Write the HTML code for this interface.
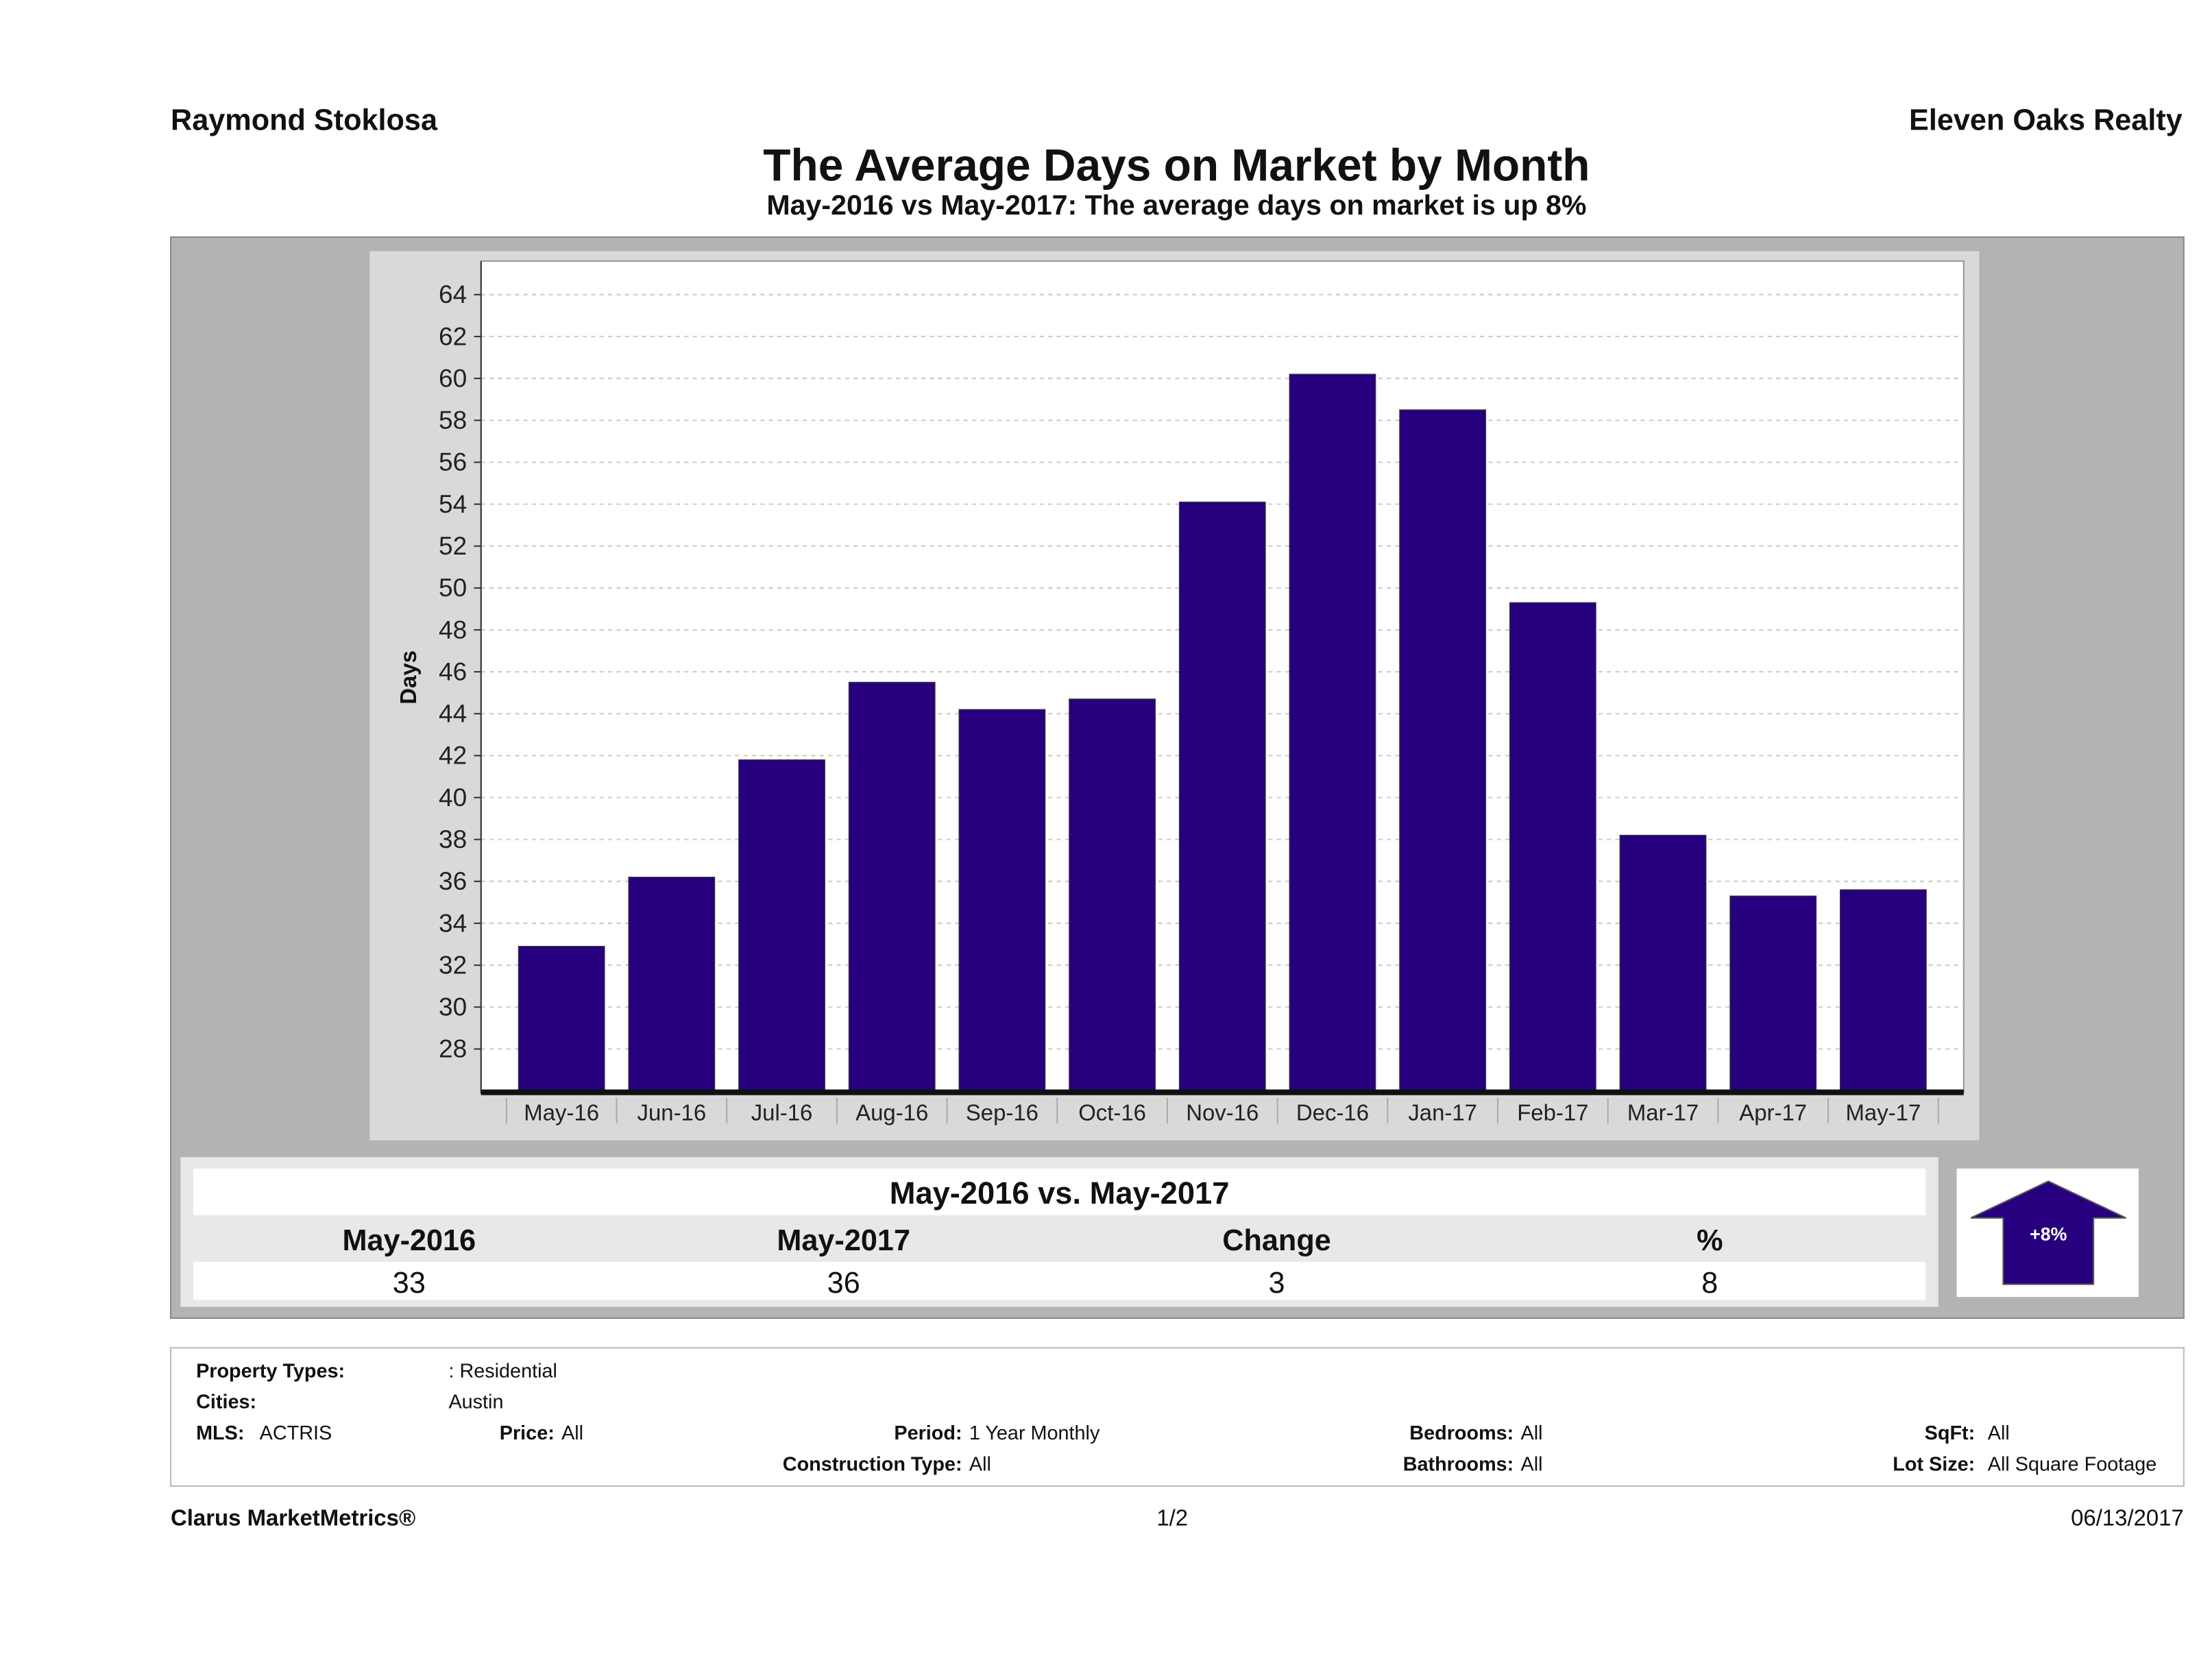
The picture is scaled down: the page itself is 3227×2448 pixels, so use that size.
<!DOCTYPE html>
<html><head><meta charset="utf-8"><style>
html,body{margin:0;padding:0;background:#fff;}
svg{display:block;font-family:"Liberation Sans",sans-serif;}
</style></head><body>
<svg id="c" width="3227" height="2448" viewBox="0 0 1568 1189" preserveAspectRatio="none" xmlns="http://www.w3.org/2000/svg">
<text x="121" y="92" font-size="21" font-weight="bold" fill="#111">Raymond Stoklosa</text>
<text x="1547" y="92" font-size="21" font-weight="bold" fill="#111" text-anchor="end">Eleven Oaks Realty</text>
<text x="834" y="128" font-size="32" font-weight="bold" fill="#111" text-anchor="middle">The Average Days on Market by Month</text>
<text x="834" y="152" font-size="20" font-weight="bold" fill="#111" text-anchor="middle">May-2016 vs May-2017: The average days on market is up 8%</text>
<rect x="121" y="168" width="1427" height="766" fill="#b3b3b3" stroke="#888"/>
<rect x="262" y="178" width="1141" height="630" fill="#d9d9d9"/>
<rect x="341" y="185" width="1051" height="589" fill="#fff" stroke="#999"/>
<g id="grid"></g>
<g id="bars"></g>
<g id="xt"></g>
<text transform="translate(295,480) rotate(-90)" font-size="16" font-weight="bold" text-anchor="middle" fill="#111">Days</text>
<rect x="128" y="820" width="1246" height="106" fill="#e8e8e8"/>
<rect x="137" y="828" width="1228" height="33" fill="#fff"/>
<text x="751" y="853" font-size="22" font-weight="bold" text-anchor="middle" fill="#111">May-2016 vs. May-2017</text>
<g font-size="21" font-weight="bold" text-anchor="middle" fill="#111">
<text x="290" y="886">May-2016</text>
<text x="598" y="886">May-2017</text>
<text x="905" y="886">Change</text>
<text x="1212" y="886">%</text>
</g>
<rect x="137" y="894" width="1228" height="27" fill="#fff"/>
<g font-size="21" text-anchor="middle" fill="#111">
<text x="290" y="916">33</text>
<text x="598" y="916">36</text>
<text x="905" y="916">3</text>
<text x="1212" y="916">8</text>
</g>
<rect x="1387" y="828" width="129" height="91" fill="#fff"/>
<polygon points="1397,863 1452,837 1507,863 1484,863 1484,910 1420,910 1420,863" fill="#27007f" stroke="#555"/>
<text x="1452" y="879" font-size="13" font-weight="bold" fill="#fff" text-anchor="middle">+8%</text>
<rect x="121" y="955" width="1427" height="98" fill="#fff" stroke="#bbb"/>
<g font-size="14" fill="#111">
<text x="139" y="976" font-weight="bold">Property Types:</text><text x="318" y="976">: Residential</text>
<text x="139" y="998" font-weight="bold">Cities:</text><text x="318" y="998">Austin</text>
<text x="139" y="1020" font-weight="bold">MLS:</text><text x="184" y="1020">ACTRIS</text>
<text x="393" y="1020" font-weight="bold" text-anchor="end">Price:</text><text x="398" y="1020">All</text>
<text x="682" y="1020" font-weight="bold" text-anchor="end">Period:</text><text x="687" y="1020">1 Year Monthly</text>
<text x="682" y="1042" font-weight="bold" text-anchor="end">Construction Type:</text><text x="687" y="1042">All</text>
<text x="1073" y="1020" font-weight="bold" text-anchor="end">Bedrooms:</text><text x="1078" y="1020">All</text>
<text x="1073" y="1042" font-weight="bold" text-anchor="end">Bathrooms:</text><text x="1078" y="1042">All</text>
<text x="1400" y="1020" font-weight="bold" text-anchor="end">SqFt:</text><text x="1409" y="1020">All</text>
<text x="1400" y="1042" font-weight="bold" text-anchor="end">Lot Size:</text><text x="1409" y="1042">All Square Footage</text>
</g>
<text x="121" y="1081" font-size="16" font-weight="bold" fill="#111">Clarus MarketMetrics®</text>
<text x="831" y="1081" font-size="16" fill="#111" text-anchor="middle">1/2</text>
<text x="1548" y="1081" font-size="16" fill="#111" text-anchor="end">06/13/2017</text>
</svg>
<script>
const categories=["May-16","Jun-16","Jul-16","Aug-16","Sep-16","Oct-16","Nov-16","Dec-16","Jan-17","Feb-17","Mar-17","Apr-17","May-17"];
const values=[32.9,36.2,41.8,45.5,44.2,44.7,54.1,60.2,58.5,49.3,38.2,35.3,35.6];
const yTicks=[28,30,32,34,36,38,40,42,44,46,48,50,52,54,56,58,60,62,64];
const NS="http://www.w3.org/2000/svg";
const yMin=26,yMax=65.6,pTop=185,pBot=773;
function y(v){return pBot-(v-yMin)/(yMax-yMin)*(pBot-pTop);}
const x0=359,step=(1374-359)/categories.length,bw=61;
function xc(i){return x0+step*(i+0.5);}
function mk(tag,attrs,parent){const e=document.createElementNS(NS,tag);for(const k in attrs)e.setAttribute(k,attrs[k]);parent.appendChild(e);return e;}
const grid=document.getElementById('grid'),bars=document.getElementById('bars'),xt=document.getElementById('xt');
yTicks.forEach(t=>{
 const l=mk('line',{x1:341,x2:1392,y1:y(t),y2:y(t),stroke:'#ccc','stroke-dasharray':'3,3'},grid);
 
 
 mk('line',{x1:336,x2:341,y1:y(t),y2:y(t),stroke:'#333'},grid);
 const tx=mk('text',{x:331,y:y(t)+6,'font-size':18,'text-anchor':'end',fill:'#222'},grid);
 tx.textContent=t;
 
 
});
mk('line',{x1:341,x2:341,y1:185,y2:775,stroke:'#333'},grid);
values.forEach((v,i)=>{
 const r=mk('rect',{x:xc(i)-bw/2,y:y(v),width:bw,height:pBot-y(v),fill:'#27007f',stroke:'#333','stroke-width':0.6},bars);
 
 
});
mk('rect',{x:341,y:772,width:1051,height:4,fill:'#111'},xt);
categories.forEach((c,i)=>{
 mk('line',{x1:x0+step*i,x2:x0+step*i,y1:778,y2:796,stroke:'#aaa'},xt);
 const t=mk('text',{x:xc(i),y:794,'font-size':16,'text-anchor':'middle',fill:'#222'},xt);
 t.textContent=c;
 
 
});
mk('line',{x1:1374,x2:1374,y1:778,y2:796,stroke:'#aaa'},xt);
</script>
</body></html>
